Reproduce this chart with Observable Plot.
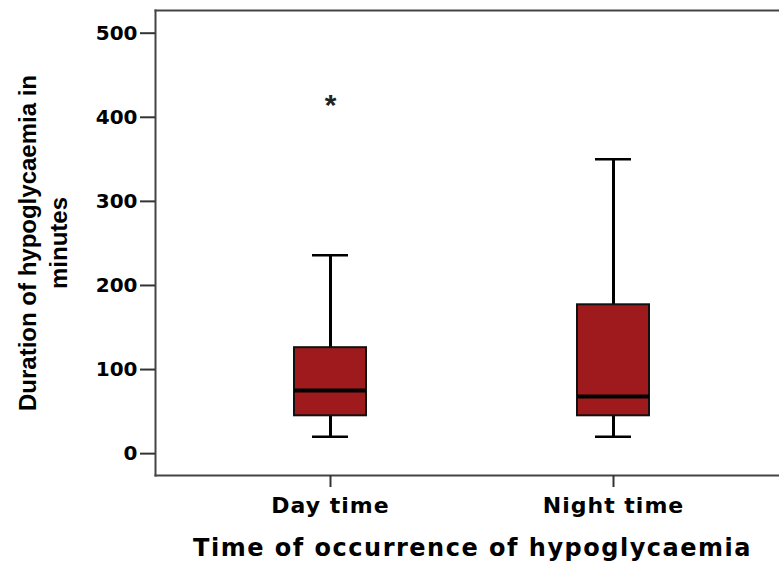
<!DOCTYPE html>
<html><head><meta charset="utf-8">
<script src="https://cdn.jsdelivr.net/npm/d3@7"></script>
<script src="https://cdn.jsdelivr.net/npm/@observablehq/plot@0.6"></script>
<style>
body{margin:0;background:#fff}
</style>
</head><body><div id="chart"></div>
<script>
const categories = ["Day time", "Night time"];
const whiskerLow = [20, 20];
const q1 = [45, 45];
const median = [75, 68];
const q3 = [126, 177];
const whiskerHigh = [236, 350];
const outlierCategory = ["Day time"];
const outlierValue = [418];
const yTicks = [0, 100, 200, 300, 400, 500];
const xTitle = "Time of occurrence of hypoglycaemia";
const yTitle = "Duration of hypoglycaemia in\nminutes";

const boxes = categories.map((c, i) => ({cat: c, lo: whiskerLow[i], q1: q1[i], med: median[i], q3: q3[i], hi: whiskerHigh[i]}));
const outliers = outlierCategory.map((c, i) => ({cat: c, value: outlierValue[i]}));

const plot = Plot.plot({
  width: 779, height: 563,
  marginTop: 10, marginBottom: 88, marginLeft: 155, marginRight: 0,
  style: {background: "#fff", fontFamily: "DejaVu Sans", fontWeight: "bold", fontSize: "20px", color: "#000"},
  x: {type: "band", domain: categories, paddingInner: 0.746, paddingOuter: 0.472, align: 0.515, axis: null},
  y: {domain: [-26, 527], axis: null},
  marks: [
    Plot.frame({anchor: "left", stroke: "#444", strokeWidth: 2}),
    Plot.frame({anchor: "top", stroke: "#444", strokeWidth: 2}),
    Plot.frame({anchor: "bottom", stroke: "#444", strokeWidth: 2}),
    Plot.axisY(yTicks, {tickSize: 15, tickPadding: 3, stroke: "#333", strokeWidth: 2, fill: "#000", fontSize: 20, fontWeight: "bold", label: null}),
    Plot.axisX({tickSize: 12, tickPadding: 10, stroke: "#333", strokeWidth: 2, fill: "#000", fontSize: 22, fontWeight: "bold", label: null}),
    Plot.ruleX(boxes, {x: "cat", y1: "lo", y2: "q1", stroke: "#000", strokeWidth: 3}),
    Plot.ruleX(boxes, {x: "cat", y1: "q3", y2: "hi", stroke: "#000", strokeWidth: 3}),
    Plot.tickY(boxes, {x: "cat", y: "lo", insetLeft: 18, insetRight: 18, stroke: "#000", strokeWidth: 2.5}),
    Plot.tickY(boxes, {x: "cat", y: "hi", insetLeft: 18, insetRight: 18, stroke: "#000", strokeWidth: 2.5}),
    Plot.barY(boxes, {x: "cat", y1: "q1", y2: "q3", fill: "#9e1a1c", stroke: "#111", strokeWidth: 2}),
    Plot.tickY(boxes, {x: "cat", y: "med", stroke: "#000", strokeWidth: 4}),
    Plot.text(outliers, {x: "cat", y: "value", text: () => "*", fontSize: 30, fontFamily: "Liberation Sans", fontWeight: "bold", fill: "#222", dy: 3}),
    Plot.text([yTitle], {text: d => d, frameAnchor: "left", textAnchor: "middle", lineAnchor: "middle", rotate: -90, dx: -114, fontFamily: "Liberation Sans", fontSize: 24, fontWeight: "bold", lineHeight: 1.3, fill: "#000"}),
    Plot.text([xTitle], {text: d => d, frameAnchor: "bottom", textAnchor: "middle", lineAnchor: "top", dy: 63, dx: 5, fontFamily: "DejaVu Sans", fontSize: 24, fontWeight: "bold", fill: "#000"})
  ]
});

plot.querySelectorAll("text").forEach(t => {
  if (t.textContent === xTitle) t.setAttribute("letter-spacing", "1.5px");
  if (t.textContent === "Day time" || t.textContent === "Night time") t.setAttribute("letter-spacing", "1px");
});
document.getElementById("chart").appendChild(plot);
</script>
</body></html>
